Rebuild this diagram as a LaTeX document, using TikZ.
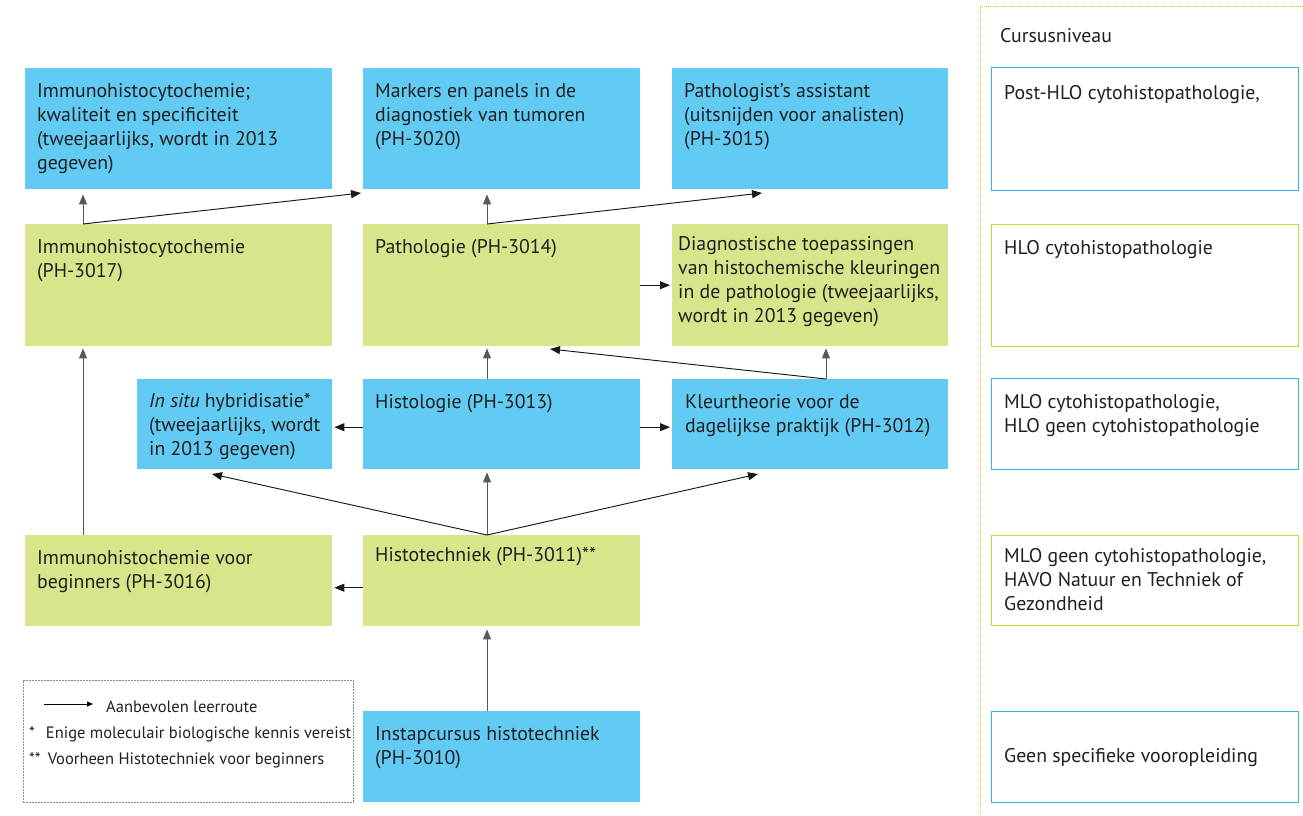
\documentclass[tikz,border=0pt]{standalone}
\usepackage{fontspec}
\setmainfont{PT Sans}
\usetikzlibrary{positioning, arrows.meta}
\definecolor{lichtblauw}{RGB}{98, 203, 243}
\definecolor{lichtgroen}{RGB}{218, 228, 138}
\definecolor{randblauw}{RGB}{54, 177, 230}
\definecolor{randgroen}{RGB}{197, 216, 56}
\definecolor{tekst}{RGB}{35, 31, 32}
\tikzset{
    blok/.style={anchor=north west, inner sep=0pt, minimum width=#1},
    blauw/.style={blok=#1, fill=lichtblauw},
    groen/.style={blok=#1, fill=lichtgroen},
    niveau/.style={blok=307pt, draw=#1, line width=1.3pt, fill=white},
    txt/.style={anchor=north west, inner sep=0pt, align=left, text=tekst,
                font=\fontsize{19.8}{24}\selectfont, xshift=12pt, yshift=-15pt},
    lgd/.style={anchor=west, inner sep=0pt, text=tekst, font=\fontsize{16.5}{18}\selectfont},
    pijl/.style={-{Triangle[length=10pt, width=8pt]}, line width=0.95pt, shorten >=2pt, draw=black!90},
    pijlgrijs/.style={pijl, draw=black!65},
}

\begin{document}
\begin{tikzpicture}[x=1pt, y=-1pt]
    \useasboundingbox (0,0) rectangle (1303,815);

    % cursussen
    \node[blauw=307pt, minimum height=121pt,
          label={[txt]north west:{Immunohistocytochemie;\\kwaliteit en specificiteit\\(tweejaarlijks, wordt in 2013\\gegeven)}}]
          (imkw) at (25,68) {};
    \node[blauw=277pt, minimum height=121pt,
          label={[txt]north west:{Markers en panels in de\\diagnostiek van tumoren\\(PH-3020)}}]
          (markers) at (363,68) {};
    \node[blauw=276pt, minimum height=121pt,
          label={[txt]north west:{Pathologist's assistant\\(uitsnijden voor analisten)\\(PH-3015)}}]
          (patass) at (672,68) {};

    \node[groen=307pt, minimum height=122pt,
          label={[txt]north west:{Immunohistocytochemie\\(PH-3017)}}]
          (imch) at (25,224) {};
    \node[groen=277pt, minimum height=122pt,
          label={[txt]north west:{Pathologie (PH-3014)}}]
          (patho) at (363,224) {};
    \node[groen=276pt, minimum height=122pt,
          label={[txt, xshift=-6pt, yshift=3pt]north west:{Diagnostische toepassingen\\van histochemische kleuringen\\in de pathologie (tweejaarlijks,\\wordt in 2013 gegeven)}}]
          (diagn) at (672,224) {};

    \node[blauw=195pt, minimum height=90pt,
          label={[txt, yshift=1pt]north west:{\emph{In situ} hybridisatie*\\(tweejaarlijks, wordt\\in 2013 gegeven)}}]
          (insitu) at (137,379) {};
    \node[blauw=277pt, minimum height=90pt,
          label={[txt]north west:{Histologie (PH-3013)}}]
          (histol) at (363,379) {};
    \node[blauw=276pt, minimum height=90pt,
          label={[txt, xshift=1pt]north west:{Kleurtheorie voor de\\dagelijkse praktijk (PH-3012)}}]
          (kleur) at (672,379) {};

    \node[groen=307pt, minimum height=91pt,
          label={[txt]north west:{Immunohistochemie voor\\beginners (PH-3016)}}]
          (imbeg) at (25,535) {};
    \node[groen=277pt, minimum height=91pt,
          label={[txt, yshift=3pt]north west:{Histotechniek (PH-3011)**}}]
          (histot) at (363,535) {};

    \node[blauw=277pt, minimum height=91pt,
          label={[txt]north west:{Instapcursus histotechniek\\(PH-3010)}}]
          (instap) at (363,711) {};

    % kolommen voor de pijlen
    \coordinate (xa) at (83,0);
    \coordinate (xb) at (487,0);
    \coordinate (xc) at (826,0);
    \coordinate (tipmark) at (361,193);
    \coordinate (tippat) at (762,193);
    \coordinate (tipphl) at (550,349);
    \coordinate (tipis) at (212,474);
    \coordinate (tipkl) at (758,474);

    % leerroute
    \draw[pijlgrijs, shorten >=5pt] (imch.north -| xa) -- (imkw.south -| xa);
    \draw[pijl, shorten >=0pt] (imch.north -| xa) -- (tipmark);
    \draw[pijlgrijs, shorten >=5pt] (patho.north -| xb) -- (markers.south -| xb);
    \draw[pijl, shorten >=0pt] (patho.north -| xb) -- (tippat);
    \draw[pijl] (patho.east) -- (diagn.west);

    \draw[pijlgrijs] (histol.north -| xb) -- (patho.south -| xb);
    \draw[pijlgrijs] (kleur.north -| xc) -- (diagn.south -| xc);
    \draw[pijl, shorten >=0pt] (kleur.north -| xc) -- (tipphl);
    \draw[pijl] ([yshift=-3pt]histol.west) -- ([yshift=-3pt]insitu.east);
    \draw[pijl] ([yshift=-3pt]histol.east) -- ([yshift=-3pt]kleur.west);

    \draw[pijl, shorten >=0pt] (histot.north -| xb) -- (tipis);
    \draw[pijlgrijs, shorten >=3pt] (histot.north -| xb) -- (histol.south -| xb);
    \draw[pijl, shorten >=0pt] (histot.north -| xb) -- (tipkl);
    \draw[pijl] ([yshift=-7pt]histot.west) -- ([yshift=-7pt]imbeg.east);
    \draw[pijlgrijs] (imbeg.north -| xa) -- (imch.south -| xa);
    \draw[pijlgrijs, shorten >=3pt] (instap.north -| xb) -- (histot.south -| xb);

    % legenda
    \node[draw=black!45, dash pattern=on 2pt off 1pt, line width=0.7pt, anchor=north west,
          inner sep=0pt, minimum width=330pt, minimum height=122pt] (legenda) at (23,680) {};
    \coordinate (lpa) at (44,704);
    \coordinate (lpb) at (93,704);
    \draw[-{Triangle[length=6pt, width=5pt]}, line width=0.8pt] (lpa) -- (lpb);
    \node[lgd] (lroute) at (106,707) {Aanbevolen leerroute};
    \node[lgd] (lster) at (29,734) {*\hspace{11pt}Enige moleculair biologische kennis vereist};
    \node[lgd] (lsterren) at (29,760) {**\hspace{7pt}Voorheen Histotechniek voor beginners};

    % cursusniveau
    \draw[randgroen, line width=1pt, dash pattern=on 1pt off 1pt] (1303,6) -- (980,6) -- (980,815);
    \node[anchor=west, inner sep=0pt, text=tekst, font=\fontsize{19.8}{24}\selectfont] (kop) at (1000,36) {Cursusniveau};
    \node[niveau=randblauw, minimum height=123pt,
          label={[txt, xshift=1pt, yshift=-3pt]north west:{Post-HLO cytohistopathologie,}}]
          (nivpost) at (991,67) {};
    \node[niveau=randgroen, minimum height=122pt,
          label={[txt, xshift=1pt, yshift=-1pt]north west:{HLO cytohistopathologie}}]
          (nivhlo) at (991,224) {};
    \node[niveau=randblauw, minimum height=91pt,
          label={[txt, xshift=1pt, yshift=-1pt]north west:{MLO cytohistopathologie,\\HLO geen cytohistopathologie}}]
          (nivmlo) at (991,378) {};
    \node[niveau=randgroen, minimum height=90pt,
          label={[txt, xshift=1pt, yshift=2pt]north west:{MLO geen cytohistopathologie,\\HAVO Natuur en Techniek of\\Gezondheid}}]
          (nivhavo) at (991,535) {};
    \node[niveau=randblauw, minimum height=91pt,
          label={[txt, xshift=1pt, yshift=15pt, anchor=west]west:{Geen specifieke vooropleiding}}]
          (nivgeen) at (991,711) {};
\end{tikzpicture}
\end{document}
